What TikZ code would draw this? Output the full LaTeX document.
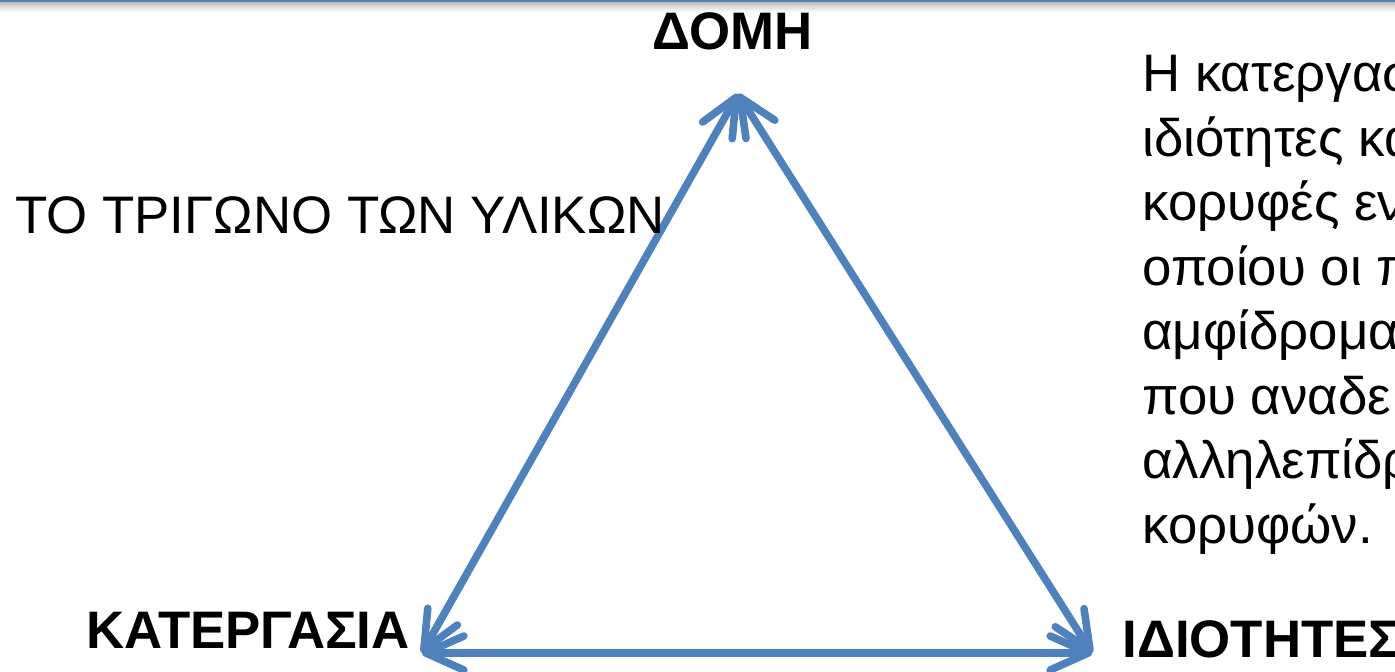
\documentclass[tikz,border=0pt]{standalone}
\usepackage{fontspec}
\setmainfont{Liberation Sans}
\usetikzlibrary{arrows.meta}
\definecolor{edgeblue}{RGB}{79,129,189}

\begin{document}
\begin{tikzpicture}[x=0.5pt, y=-0.5pt,
    barb/.tip={Straight Barb[length=19pt,width=17pt,round]},
    side/.style={draw=edgeblue, line width=3.8pt, barb-barb},
    corner/.style={font=\fontsize{26.4}{32}\selectfont\bfseries, inner sep=0pt},
    plain/.style={font=\fontsize{26.4}{32}\selectfont, inner sep=0pt, anchor=base west}]
    \useasboundingbox (0,0) rectangle (1395,672);
    \clip (0,0) rectangle (1395,672);

    % rule along the top edge
    \shade[top color=black!28, bottom color=white] (0,1) rectangle (1395,12);
    \draw[edgeblue, line width=1pt] (0,1) -- (1395,1);

    \coordinate (apex) at (738,94);
    \coordinate (left) at (422,653);
    \coordinate (right) at (1092,653);

    \draw[side] (apex) -- (left);
    \draw[side] (apex) -- (right);
    \draw[side] (left) -- (right);

    \node[corner, anchor=base west] (domi) at (652,50) {ΔΟΜΗ};
    \node[corner, anchor=base east] (katergasia) at (410,648) {ΚΑΤΕΡΓΑΣΙΑ};
    \node[corner, anchor=base west] (idiotites) at (1122,657) {ΙΔΙΟΤΗΤΕΣ};
    \node[plain] (title) at (15,234) {ΤΟ ΤΡΙΓΩΝΟ ΤΩΝ ΥΛΙΚΩΝ};

    \foreach \txt [count=\i from 0] in {Η κατεργασ, ιδιότητες κα, κορυφές εν,
        οποίου οι π, αμφίδρομα, που αναδε, αλληλεπίδρ, κορυφών.}
        \node[plain] (line\i) at (1142,{92+64.5*\i}) {\txt};
\end{tikzpicture}
\end{document}
